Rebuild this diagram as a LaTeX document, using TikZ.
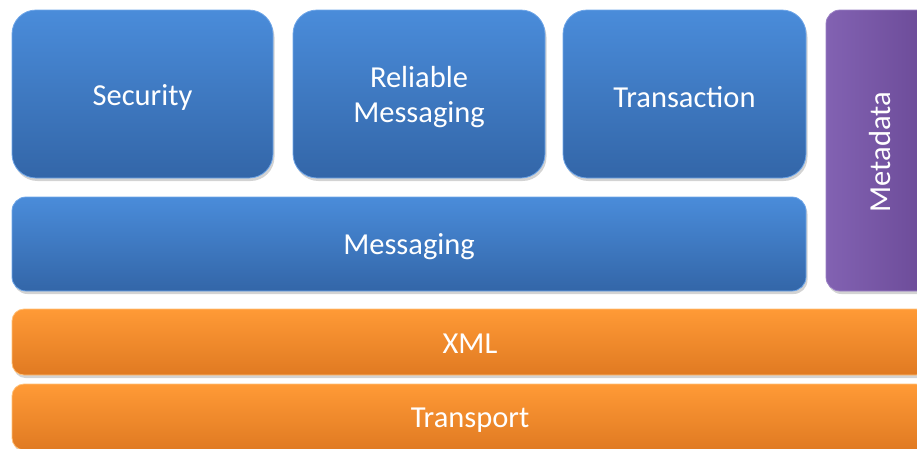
\documentclass[tikz,border=0pt]{standalone}
\usepackage{fontspec}
\setmainfont{Carlito}
\usetikzlibrary{shadows}
\definecolor{bluetop}{HTML}{4A8CDA}
\definecolor{bluebot}{HTML}{3366A8}
\definecolor{blueedge}{HTML}{6FA6E8}
\definecolor{purpleL}{HTML}{8262B2}
\definecolor{purpleR}{HTML}{6A4996}
\definecolor{purpleedge}{HTML}{9A80C4}
\definecolor{orangetop}{HTML}{FF9A36}
\definecolor{orangebot}{HTML}{E07A22}
\definecolor{orangeedge}{HTML}{FFC078}
\tikzset{
  layer/.style={rectangle, rounded corners=#1, inner sep=0pt,
    drop shadow={opacity=0.35, shadow xshift=1.5pt, shadow yshift=-3pt}},
  bluebox/.style={layer=24pt, top color=bluetop, bottom color=bluebot, draw=blueedge, line width=0.8pt},
  bluebar/.style={layer=14pt, top color=bluetop, bottom color=bluebot, draw=blueedge, line width=0.8pt},
  purplebox/.style={layer=14pt, left color=purpleL, right color=purpleR, draw=purpleedge, line width=0.8pt},
  orangebar/.style={layer=12pt, top color=orangetop, bottom color=orangebot, draw=orangeedge, line width=0.8pt},
  lbl/.style={text=white, align=center, inner sep=0pt, font=\fontsize{30.5}{35}\selectfont},
}
\begin{document}
\begin{tikzpicture}[x=1pt,y=-1pt]
\useasboundingbox (0,0) rectangle (917,448);
\clip (0,0) rectangle (917,448);
\node[bluebox, minimum width=261pt, minimum height=168pt] (sec) at (142.5,94) {};
\node[bluebox, minimum width=252pt, minimum height=168pt] (rel) at (419,94) {};
\node[bluebox, minimum width=243pt, minimum height=168pt] (tra) at (684.5,94) {};
\node[purplebox, minimum width=108pt, minimum height=281pt] (meta) at (880,150.5) {};
\node[bluebar, minimum width=794pt, minimum height=94pt] (msg) at (409,244) {};
\node[orangebar, minimum width=916pt, minimum height=66pt] (xml) at (470,342) {};
\node[orangebar, minimum width=916pt, minimum height=66pt] (trn) at (470,417) {};
\node[lbl] (secl) at ([yshift=-3pt]sec.center) {Security};
\node[lbl] (rell) at ([yshift=-3pt]rel.center) {Reliable\\Messaging};
\node[lbl] (tral) at ([yshift=-3pt]tra.center) {Transaction};
\node[lbl, rotate=90] (metal) at ([yshift=-1.5pt]meta.center) {Metadata};
\node[lbl] (msgl) at ([yshift=-3pt]msg.center) {Messaging};
\node[lbl] (xmll) at ([yshift=-2pt]xml.center) {XML};
\node[lbl] (trnl) at ([yshift=-3pt]trn.center) {Transport};
\end{tikzpicture}
\end{document}
